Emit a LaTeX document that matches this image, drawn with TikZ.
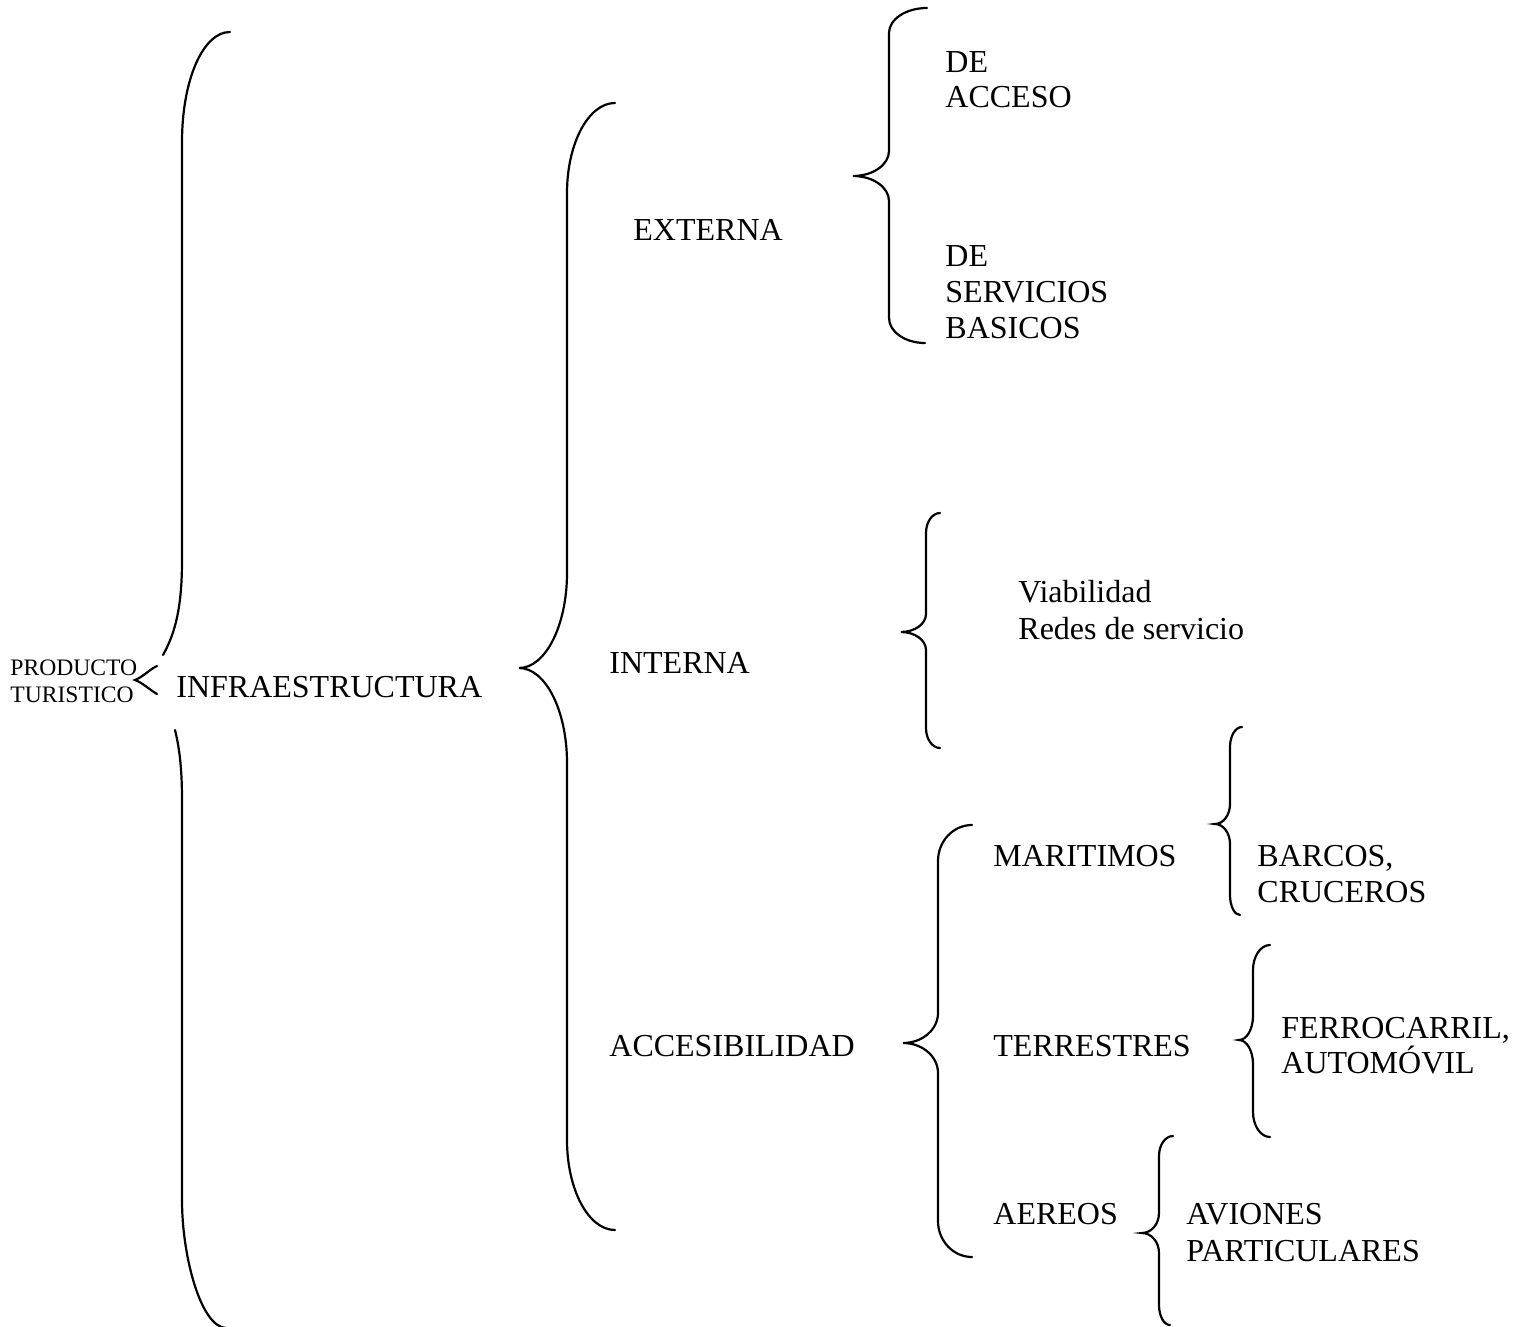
\documentclass[tikz,border=0pt]{standalone}
\usepackage{fontspec}
\setmainfont{Liberation Serif}
\newcommand\wbrace[9]{%
 \draw[bracestyle] (#1,#2) .. controls ({#3+0.448*(#1-#3)},#2) and (#3,{#2+0.448*#8}) .. (#3,{#2+#8})
 -- (#3,{#5-#9}) .. controls (#3,{#5-0.448*#9}) and ({#4+0.552*(#3-#4)},#5) .. (#4,#5)
 .. controls ({#4+0.552*(#3-#4)},#5) and (#3,{#5+0.448*#9}) .. (#3,{#5+#9})
 -- (#3,{#7-#8}) .. controls (#3,{#7-0.448*#8}) and ({#3+0.448*(#6-#3)},#7) .. (#6,#7);}
\begin{document}
\begin{tikzpicture}[x=0.5pt,y=-0.5pt,
  bracestyle/.style={line width=1.1pt,line cap=round},
  lbl/.style={anchor=base west,inner sep=0pt,font=\fontsize{16}{18}\selectfont},
  small/.style={anchor=base west,inner sep=0pt,font=\fontsize{11.8}{13}\selectfont}]
\useasboundingbox (0,0) rectangle (1522,1327);
% left big brace (split around label)
\draw[bracestyle] (230,32) .. controls (203,32) and (182,80) .. (182,142)
  -- (182,560) .. controls (182,605) and (176,632) .. (163,655);
\draw[bracestyle] (157,666) .. controls (150,669) and (143,677) .. (135,680)
  .. controls (143,683) and (150,690) .. (157,694);
\draw[bracestyle] (175,730) .. controls (180,750) and (182,772) .. (182,800)
  -- (182,1200) .. controls (182,1257) and (201,1327) .. (226,1328);
% braces
\wbrace{615}{103}{567}{519}{668}{615}{1230}{90}{95}
\wbrace{927}{8}{889}{853}{176}{925}{343}{25}{25}
\wbrace{940}{513}{926}{901}{632}{940}{748}{20}{18}
\wbrace{972}{825}{938}{903}{1043}{972}{1257}{36}{30}
\wbrace{1242}{727}{1230}{1215}{824}{1240}{915}{20}{20}
\wbrace{1270}{945}{1253}{1239}{1040}{1270}{1137}{25}{24}
\wbrace{1173}{1136}{1159}{1142}{1233}{1170}{1325}{20}{20}
% texts
\node[small] (prod1) at (10,675) {PRODUCTO};
\node[small] (prod2) at (10,702) {TURISTICO};
\node[lbl] (infra) at (176,697) {INFRAESTRUCTURA};
\node[lbl] (ext) at (633,241) {EXTERNA};
\node[lbl] (int) at (609,673) {INTERNA};
\node[lbl] (acc) at (609,1056) {ACCESIBILIDAD};
\node[lbl] (de1) at (945,73) {DE};
\node[lbl] (acceso) at (945,108) {ACCESO};
\node[lbl] (de2) at (945,266) {DE};
\node[lbl] (serv) at (945,302) {SERVICIOS};
\node[lbl] (basic) at (945,338) {BASICOS};
\node[lbl] (viab) at (1018,602) {Viabilidad};
\node[lbl] (redes) at (1018,639) {Redes de servicio};
\node[lbl] (mar) at (993,866) {MARITIMOS};
\node[lbl] (ter) at (993,1056) {TERRESTRES};
\node[lbl] (aer) at (993,1224) {AEREOS};
\node[lbl] (barcos) at (1257,866) {BARCOS,};
\node[lbl] (cruc) at (1257,902) {CRUCEROS};
\node[lbl] (ferro) at (1281,1038) {FERROCARRIL,};
\node[lbl] (auto) at (1281,1073) {AUTOMÓVIL};
\node[lbl] (avion) at (1186,1224) {AVIONES};
\node[lbl] (part) at (1186,1261) {PARTICULARES};
\end{tikzpicture}
\end{document}
